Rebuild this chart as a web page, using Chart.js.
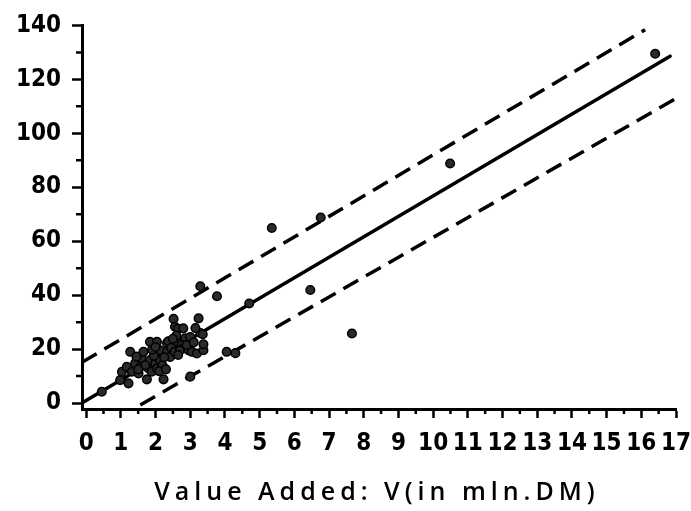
<!DOCTYPE html>
<html><head><meta charset="utf-8">
<script src="https://cdn.jsdelivr.net/npm/chart.js@4/dist/chart.umd.min.js"></script>
<style>html,body{margin:0;padding:0;background:#fff}#wrap{width:691px;height:511px}</style>
</head><body><div id="wrap"><canvas id="c" width="691" height="511"></canvas></div>
<script>
// Observed firms: value added V (mln DM) vs. dependent variable
const pointX = [0.45,0.98,1.22,1.03,1.17,1.32,1.27,1.41,1.51,1.56,1.60,1.65,1.75,1.80,1.84,1.89,1.84,2.04,2.33,1.99,2.04,2.04,2.13,2.13,2.23,2.33,2.42,2.37,2.52,2.56,2.61,2.65,2.80,2.85,2.75,2.80,2.95,2.90,3.00,3.00,3.05,3.19,3.24,3.29,3.29,3.38,3.38,3.36,3.77,4.05,4.30,4.70,5.35,6.46,6.76,7.66,10.49,16.40,
  1.70,1.95,2.20,2.25,2.45,2.55,2.70,2.60,1.50,2.10,1.90,2.00,2.50,3.10,1.45,2.30,2.65,3.15];
const pointY = [4.2,8.5,7.3,11.6,13.4,11.6,19.0,14.7,11.0,13.4,16.5,19.0,8.8,12.8,15.9,11.6,22.7,22.7,22.3,14.7,12.8,18.4,15.9,19.6,8.8,19.0,17.1,22.9,31.2,28.3,22.7,27.5,27.7,24.0,21.5,20.3,19.6,21.5,9.8,24.5,19.0,18.4,31.4,26.0,43.3,19.6,21.8,25.5,39.6,19.0,18.5,36.9,64.9,41.9,68.8,25.8,88.8,129.5,
  14.0,17.5,14.0,17.0,20.5,19.0,19.5,25.0,12.5,11.8,19.8,20.8,23.8,22.5,17.2,12.5,17.8,27.8];
// Regression line and band limits (end points)
const fitX = [-0.1, 16.83];
const fitY = [0.25, 128.6];
const upperX = [-0.12, 16.11];
const upperY = [15.1, 138.4];
const lowerX = [1.56, 17.0];
const lowerY = [-0.7, 112.9];
// Axis ticks
const xTicks = [0,1,2,3,4,5,6,7,8,9,10,11,12,13,14,15,16,17];
const yTicks = [0,20,40,60,80,100,120,140];
const xMinor = [0.5,1.5,2.5,3.5,4.5,5.5,6.5,7.5,8.5,9.5,10.5,11.5,12.5,13.5,14.5,15.5,16.5];
const yMinor = [10,30,50,70,90,110,130];
const xTitle = 'Value Added: V(in mln.DM)';

const pts = (xs, ys) => xs.map((x, i) => ({x: x, y: ys[i]}));

const canvas = document.getElementById('c');
const ctx0 = canvas.getContext('2d');
ctx0.letterSpacing = '4px';

const tickFont = {family: '"DejaVu Sans Condensed", "DejaVu Sans", sans-serif', size: 24, weight: 'bold'};

const minorTicks = {
  id: 'minorTicks',
  afterDraw(chart) {
    const ctx = chart.ctx, xs = chart.scales.x, ys = chart.scales.y;
    ctx.save();
    ctx.strokeStyle = '#000';
    ctx.lineWidth = 2.5;
    ctx.beginPath();
    xMinor.forEach(v => { const p = xs.getPixelForValue(v); ctx.moveTo(p, xs.top); ctx.lineTo(p, xs.top + 5); });
    yMinor.forEach(v => { const p = ys.getPixelForValue(v); ctx.moveTo(ys.right, p); ctx.lineTo(ys.right - 6, p); });
    ctx.stroke();
    // axis title
    ctx.letterSpacing = '5px';
    ctx.fillStyle = '#000';
    ctx.font = '600 25px "Open Sans", "DejaVu Sans", sans-serif';
    ctx.textAlign = 'center';
    ctx.textBaseline = 'alphabetic';
    ctx.fillText(xTitle, 377, 500);
    ctx.restore();
  }
};

new Chart(canvas, {
  type: 'scatter',
  data: {
    datasets: [
      {data: pts(pointX, pointY), order: 0, pointRadius: 4.3, pointBackgroundColor: '#2a2a2a', pointBorderColor: '#000', pointBorderWidth: 1.5},
      {data: pts(fitX, fitY), order: 1, showLine: true, pointRadius: 0, borderColor: '#000', borderWidth: 3.5, borderCapStyle: 'round'},
      {data: pts(upperX, upperY), order: 1, showLine: true, pointRadius: 0, borderColor: '#000', borderWidth: 3.5, borderDash: [17, 9]},
      {data: pts(lowerX, lowerY), order: 1, showLine: true, pointRadius: 0, borderColor: '#000', borderWidth: 3.5, borderDash: [17, 9]}
    ]
  },
  options: {
    responsive: false,
    animation: false,
    events: [],
    clip: false,
    layout: {autoPadding: false, padding: {left: 0, right: 15, top: 25, bottom: 0}},
    plugins: {legend: {display: false}, tooltip: {enabled: false}, title: {display: false}},
    scales: {
      x: {
        type: 'linear', min: -0.12, max: 17,
        afterBuildTicks: s => { s.ticks = xTicks.map(v => ({value: v})); },
        afterFit: s => { s.height = 102; },
        border: {display: true, color: '#000', width: 3},
        grid: {drawOnChartArea: false, drawTicks: true, tickLength: 9, tickWidth: 2.5, tickColor: '#000'},
        ticks: {color: '#000', font: tickFont, padding: 11, maxRotation: 0, autoSkip: false},
        afterUpdate: s => { s.paddingLeft = 0; s.paddingRight = 0; }
      },
      y: {
        type: 'linear', min: -2.2, max: 140,
        afterBuildTicks: s => { s.ticks = yTicks.map(v => ({value: v})); },
        afterFit: s => { s.width = 82; },
        border: {display: true, color: '#000', width: 3},
        grid: {drawOnChartArea: false, drawTicks: true, tickLength: 10, tickWidth: 2.5, tickColor: '#000'},
        ticks: {color: '#000', font: tickFont, padding: 11, autoSkip: false}
      }
    }
  },
  plugins: [minorTicks]
});
</script>
</body></html>
